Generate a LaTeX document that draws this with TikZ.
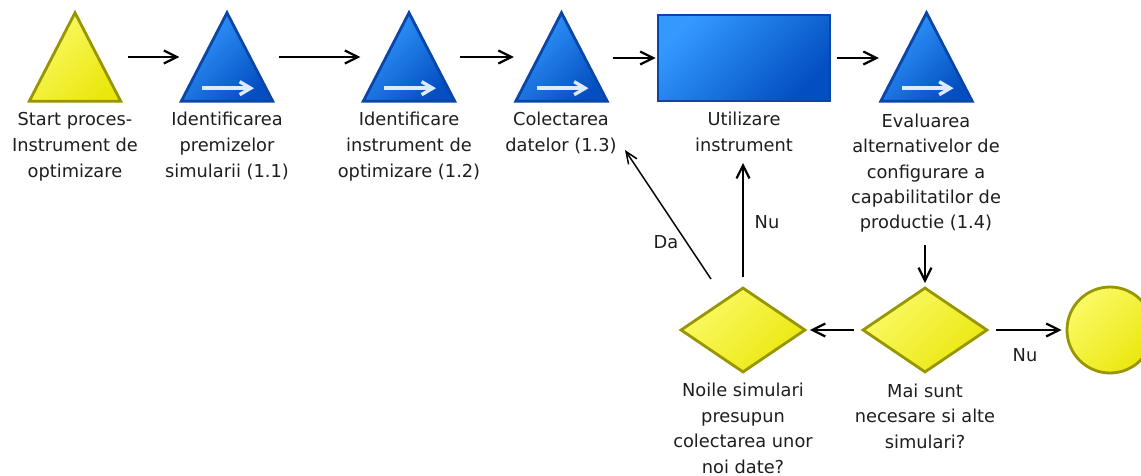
\documentclass[tikz,border=0pt]{standalone}
\usepackage{fontspec}
\setmainfont{DejaVu Sans}
\usetikzlibrary{shapes.geometric,arrows.meta}
\definecolor{bluelt}{HTML}{3399FF}
\definecolor{bluedk}{HTML}{034EC0}
\definecolor{blueedge}{HTML}{0A46A8}
\definecolor{arrowlt}{HTML}{DCEBFF}
\definecolor{yellt}{HTML}{FAFA66}
\definecolor{yeldk}{HTML}{EBE70E}
\definecolor{yeledge}{HTML}{989600}
\definecolor{txt}{HTML}{1E1E1E}

\begin{document}
\begin{tikzpicture}[x=1pt,y=-1pt,
  slot/.style={minimum width=91pt,minimum height=88pt,inner sep=0pt},
  bluefill/.style={draw=blueedge,line width=2.8pt,top color=bluelt,bottom color=bluedk,shading angle=45},
  yelfill/.style={draw=yeledge,line width=2.8pt,top color=yellt,bottom color=yeldk,shading angle=45},
  decision/.style={diamond,yelfill,minimum width=125pt,minimum height=85pt,inner sep=0pt},
  lbl/.style={text=txt,align=center,inner sep=0pt,anchor=base,
    font=\fontsize{17.8}{26}\selectfont},
  lowlbl/.style={lbl,font=\fontsize{17.8}{25.5}\selectfont},
  flow/.style={line width=2.2pt,-{Straight Barb[length=13pt,width=13pt]}},
  thin flow/.style={line width=1.5pt,-{Straight Barb[length=12pt,width=10pt]}},
  inner arrow/.style={draw=arrowlt,line width=3.4pt,-{Straight Barb[length=11pt,width=13pt]}},
]
\clip (0,0) rectangle (1141,476);
\fill[white] (0,0) rectangle (1141,476);

% process steps along the top row
\node[slot] (s0) at (75,57) {};
\node[slot] (t1) at (227,57) {};
\node[slot] (t2) at (409,57) {};
\node[slot] (t3) at (561.5,57) {};
\node[rectangle,bluefill,minimum width=172pt,minimum height=86pt,inner sep=0pt] (ui) at (744,58) {};
\node[slot] (t4) at (926.5,57) {};

\path[yelfill] (s0.south west) -- (s0.north) -- (s0.south east) -- cycle;
\foreach \t in {t1,t2,t3,t4}{
  \path[bluefill] (\t.south west) -- (\t.north) -- (\t.south east) -- cycle;
  \draw[inner arrow] ([xshift=-25pt,yshift=13pt]\t.south) -- ([xshift=27pt,yshift=13pt]\t.south);
}

% decisions and end event
\node[decision] (d1) at (743,330) {};
\node[decision] (d2) at (925,330) {};
\node[circle,yelfill,minimum size=86pt,inner sep=0pt] (end) at (1110,330) {};

% captions (anchored at the baseline of their last line)
\node[lbl] (ls0) at (75,178) {Start proces-\\Instrument de\\optimizare};
\node[lbl] (lt1) at (227,178) {Identificarea\\premizelor\\simularii (1.1)};
\node[lbl] (lt2) at (409,178) {Identificare\\instrument de\\optimizare (1.2)};
\node[lbl] (lt3) at (561,152) {Colectarea\\datelor (1.3)};
\node[lbl] (lui) at (744,152) {Utilizare\\instrument};
\node[lowlbl] (lt4) at (926,229) {Evaluarea\\alternativelor de\\configurare a\\capabilitatilor de\\productie (1.4)};
\node[lowlbl] (ld1) at (743,473) {Noile simulari\\presupun\\colectarea unor\\noi date?};
\node[lowlbl] (ld2) at (925,448) {Mai sunt\\necesare si alte\\simulari?};

% connector end points
\coordinate (p4) at (925,245);
\coordinate (nuTip) at (743,163);
\coordinate (daTip) at (625,150);
\coordinate (daFoot) at (711,279);

% connectors
\draw[flow,shorten <=7pt,shorten >=2pt] (s0.east) -- (t1.west);
\draw[flow,shorten <=6pt,shorten >=3pt] (t1.east) -- (t2.west);
\draw[flow,shorten <=5pt,shorten >=2pt] (t2.east) -- (t3.west);
\draw[flow,shorten <=6pt,shorten >=1pt] (t3.east |- ui.west) -- (ui.west);
\draw[flow,shorten <=6pt,shorten >=2pt] (ui.east) -- (t4.west |- ui.east);
\draw[flow,shorten >=3pt] (p4) -- (d2.north);
\draw[flow,shorten <=7pt,shorten >=3pt] (d2.west) -- (d1.east);
\draw[flow,shorten <=7pt,shorten >=4pt] (d2.east) -- (end.west);
\draw[flow,shorten <=9pt] (d1.north) -- (nuTip);
\draw[thin flow] (daFoot) -- (daTip);

% branch labels
\node[lbl] (nu1) at (767,229) {Nu};
\node[lbl] (da) at (666,248) {Da};
\node[lbl] (nu2) at (1025,361) {Nu};
\end{tikzpicture}
\end{document}
